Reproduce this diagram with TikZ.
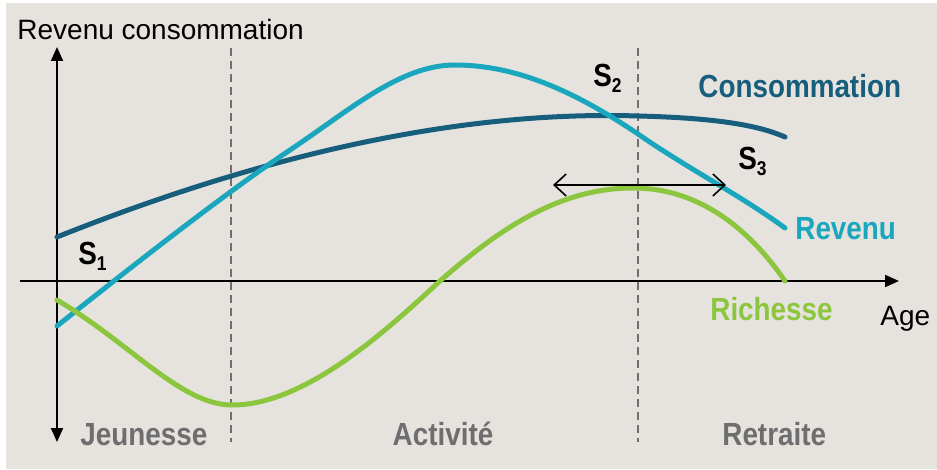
\documentclass[tikz,border=0pt]{standalone}
\usepackage{fontspec}
\setmainfont{Liberation Sans}
\newfontfamily\condfont[FakeStretch=0.87]{Liberation Sans}
\usetikzlibrary{arrows.meta}
\definecolor{bg}{HTML}{E6E3DE}
\definecolor{cons}{HTML}{175E7C}
\definecolor{rev}{HTML}{1AA7BD}
\definecolor{rich}{HTML}{8CC63F}
\definecolor{zone}{HTML}{6E6E70}
\definecolor{dashc}{HTML}{707070}
\newcommand{\sub}[1]{\raisebox{-2.6pt}{\fontsize{10}{12}\selectfont #1}}
\begin{document}
\begin{tikzpicture}[x=0.5pt,y=-0.5pt,
  lbl/.style={inner sep=0pt, anchor=base west},
  reg/.style={lbl, font=\fontsize{14}{16}\selectfont},
  bold/.style={lbl, font=\condfont\bfseries\fontsize{16}{18}\selectfont},
  zonelbl/.style={bold, text=zone},
  curve/.style={line width=2.5pt, line cap=round, line join=round},
  divider/.style={dashc, line width=0.75pt, dash pattern=on 4pt off 2.5pt},
  axis/.style={black, line width=1pt},
  span/.style={black, line width=0.8pt, {Straight Barb[length=6pt,width=11pt]}-{Straight Barb[length=6pt,width=11pt]}}]
\fill[white] (0,0) rectangle (937,470);
\fill[bg] (6,3) rectangle (937,469);
\useasboundingbox (0,0) rectangle (937,470);

% coordinates
\coordinate (ytop) at (57,47);
\coordinate (ybot) at (57,442);
\coordinate (xl) at (20,281);
\coordinate (xr) at (899,281);
\coordinate (d1t) at (231,48);
\coordinate (d1b) at (231,442);
\coordinate (d2t) at (638,48);
\coordinate (d2b) at (638,442);
\coordinate (al) at (553,185);
\coordinate (ar) at (726,185);

% dividers
\draw[divider] (d1t) -- (d1b);
\draw[divider] (d2t) -- (d2b);

% axes
\draw[axis, -{Triangle[length=7pt,width=6pt]}] (xl) -- (xr);
\draw[axis, {Triangle[length=7pt,width=6pt]}-{Triangle[length=7pt,width=6pt]}] (ybot) -- (ytop);

% curves
\draw[curve, cons] (57,237) .. controls (250,160) and (450,110) .. (638,116)
  .. controls (720,118) and (760,126) .. (785,137);
\draw[curve, rev] (57,326) .. controls (150,252) and (230,190) .. (290,150)
  .. controls (350,110) and (400,65) .. (455,65)
  .. controls (520,65) and (580,95) .. (638,134)
  .. controls (690,170) and (740,195) .. (785,228);
\draw[curve, rich] (57,300) .. controls (130,343) and (180,404) .. (231,405)
  .. controls (305,406) and (388,329) .. (440,281)
  .. controls (500,228) and (560,188) .. (633,188)
  .. controls (700,188) and (750,230) .. (785,281);

% span arrow
\draw[span] (al) -- (ar);

% labels
\node[reg] (ylab) at (17,40) {Revenu consommation};
\node[reg] (xlab) at (880,326) {Age};
\node[bold, text=cons] (lcons) at (698,98) {Consommation};
\node[bold, text=rev] (lrev) at (795,240) {Revenu};
\node[bold, text=rich] (lrich) at (710,321) {Richesse};
\node[bold] (s1) at (78,265) {S\sub{1}};
\node[bold] (s2) at (593,87) {S\sub{2}};
\node[bold] (s3) at (738,170) {S\sub{3}};
\node[zonelbl] (z1) at (80,445) {Jeunesse};
\node[zonelbl, anchor=base] (z2) at (443,445) {Activité};
\node[zonelbl] (z3) at (722,445) {Retraite};
\end{tikzpicture}
\end{document}
